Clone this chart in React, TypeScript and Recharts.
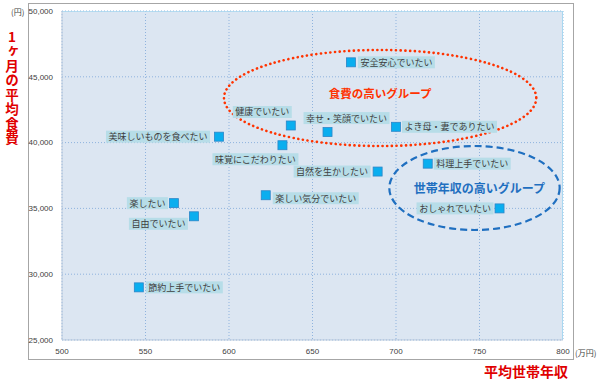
import { ScatterChart, Scatter, XAxis, YAxis, CartesianGrid, ReferenceArea } from 'recharts';

// 生活価値観ごとの平均世帯年収(万円)と1ヶ月の平均食費(円)
const names = [
  '安全安心でいたい',
  '健康でいたい',
  '美味しいものを食べたい',
  '味覚にこだわりたい',
  '幸せ・笑顔でいたい',
  'よき母・妻でありたい',
  '料理上手でいたい',
  '自然を生かしたい',
  '楽しい気分でいたい',
  '楽したい',
  '自由でいたい',
  '節約上手でいたい',
  'おしゃれでいたい',
];
const income = [673, 637, 594, 632, 659, 700, 719, 689, 622, 567, 579, 546, 762];
const foodCost = [46100, 41300, 40450, 39800, 40800, 41200, 38400, 37800, 36000, 35400, 34400, 29000, 35000];

const xTicks = [500, 550, 600, 650, 700, 750, 800];
const yTicks = [25000, 30000, 35000, 40000, 45000, 50000];

// グループ(楕円)の範囲
const groupNames = ['食費の高いグループ', '世帯年収の高いグループ'];
const groupIncome = [[597, 784], [696, 798]];
const groupCost = [[39740, 47040], [33360, 39740]];

const yTitle = '1ヶ月の平均食費';
const xTitle = '平均世帯年収';

const JP = '"Noto Sans CJK JP", "Noto Sans", sans-serif';

// ラベルの置き場所: side=left なら箱の右端が cx+dx, right なら箱の左端が cx+dx
const placement: Record<string, { side: 'left' | 'right'; dx: number; dy: number }> = {
  安全安心でいたい: { side: 'right', dx: 7, dy: 0 },
  健康でいたい: { side: 'left', dx: 1, dy: -13.5 },
  美味しいものを食べたい: { side: 'left', dx: -9, dy: 0 },
  味覚にこだわりたい: { side: 'left', dx: 16, dy: 14 },
  '幸せ・笑顔でいたい': { side: 'right', dx: -24, dy: -14 },
  'よき母・妻でありたい': { side: 'right', dx: 6, dy: 0 },
  料理上手でいたい: { side: 'right', dx: 6, dy: 0 },
  自然を生かしたい: { side: 'left', dx: -7, dy: 0 },
  楽しい気分でいたい: { side: 'right', dx: 7, dy: 3 },
  楽したい: { side: 'left', dx: -6, dy: 0 },
  自由でいたい: { side: 'left', dx: -6, dy: 7.5 },
  節約上手でいたい: { side: 'right', dx: 7, dy: 0 },
  おしゃれでいたい: { side: 'left', dx: -6, dy: 0 },
};

const data = names.map((name, i) => ({ name, x: income[i], y: foodCost[i] }));

const FONT = 9;

function PointShape(props: any) {
  const { cx, cy, payload } = props;
  const p = placement[payload.name] || { side: 'right', dx: 7, dy: 0 };
  const w = payload.name.length * FONT + 5;
  const h = 12;
  const left = p.side === 'right' ? cx + p.dx : cx + p.dx - w;
  const top = cy + p.dy - h / 2;
  return (
    <g>
      <rect x={left} y={top} width={w} height={h} fill="#b7dde8" />
      <text
        x={left + w / 2}
        y={top + h / 2}
        textAnchor="middle"
        dominantBaseline="central"
        fontSize={FONT}
        fontFamily={JP}
        fill="#404040"
      >
        {payload.name}
      </text>
      <rect x={cx - 4.5} y={cy - 4.5} width={9} height={9} fill="#0aaeef" stroke="#2c86c8" strokeWidth={0.8} />
    </g>
  );
}

function groupShape(i: number) {
  return (props: any) => {
    const { x, y, width, height } = props;
    const cx = x + width / 2;
    const cy = y + height / 2;
    const red = i === 0;
    return (
      <g>
        <ellipse
          cx={cx}
          cy={cy}
          rx={width / 2}
          ry={height / 2}
          fill="none"
          stroke={red ? '#ff3300' : '#1f6fc0'}
          strokeWidth={red ? 2.6 : 2.2}
          strokeDasharray={red ? '0.1 4.6' : '7 4'}
          strokeLinecap={red ? 'round' : 'butt'}
        />
        <text
          x={cx + (red ? 0 : 5)}
          y={cy + (red ? -5 : -1)}
          textAnchor="middle"
          dominantBaseline="central"
          fontSize={red ? 11.5 : 12}
          fontWeight="bold"
          fontFamily={JP}
          fill={red ? '#ff3300' : '#1f6fc0'}
        >
          {groupNames[i]}
        </text>
      </g>
    );
  };
}

export default function App() {
  return (
    <div style={{ position: 'absolute', left: 0, top: 0, width: 600, height: 384, background: '#fff' }}>
      <svg width={600} height={384} style={{ position: 'absolute', left: 0, top: 0 }}>
        <rect x={28.5} y={3.5} width={545} height={356} fill="#fff" stroke="#a6a6a6" strokeWidth={1} />
        <text x={11} y={11} fontSize={8} fontFamily={JP} fill="#404040" dominantBaseline="central">(円)</text>
        <text x={575} y={352} fontSize={8} fontFamily={JP} fill="#404040" dominantBaseline="central">(万円)</text>
        <text
          x={12}
          y={30}
          fontSize={13.5}
          fontWeight="bold"
          fontFamily={JP}
          fill="#e00000"
          letterSpacing={1}
          style={{ writingMode: 'vertical-rl', textOrientation: 'upright' }}
        >
          {yTitle}
        </text>
        <text x={526} y={377} fontSize={14} fontWeight="bold" fontFamily={JP} fill="#e00000" textAnchor="middle">
          {xTitle}
        </text>
      </svg>
      <div style={{ position: 'absolute', left: 0, top: 0 }}>
        <ScatterChart width={600} height={384} margin={{ top: 11, right: 37, bottom: 24, left: 28 }}>
          <CartesianGrid
            stroke="#8fb3de"
            strokeDasharray="1 2"
            fill="#dce6f2"
            fillOpacity={1}
            horizontalValues={yTicks}
            verticalValues={xTicks}
          />
          <XAxis
            type="number"
            dataKey="x"
            domain={[500, 800]}
            ticks={xTicks}
            interval={0}
            height={20}
            tickSize={6}
            tickMargin={2}
            tickLine={false}
            axisLine={{ stroke: '#b9c9dc' }}
            tick={{ fontSize: 8, fill: '#404040', fontFamily: '"Liberation Sans", sans-serif' }}
          />
          <YAxis
            type="number"
            dataKey="y"
            domain={[25000, 50000]}
            ticks={yTicks}
            interval={0}
            width={34}
            tickSize={6}
            tickMargin={3}
            tickLine={false}
            axisLine={{ stroke: '#b9c9dc' }}
            tickFormatter={(v: number) => v.toLocaleString('en-US')}
            tick={{ fontSize: 8, fill: '#404040', fontFamily: '"Liberation Sans", sans-serif' }}
          />
          <ReferenceArea x1={500} x2={800} y1={49950} y2={50000} fill="#a9d8f0" fillOpacity={1} stroke="none" />
          <ReferenceArea x1={799.4} x2={800} y1={25000} y2={50000} fill="#a9d8f0" fillOpacity={1} stroke="none" />
          {groupNames.map((g, i) => (
            <ReferenceArea
              key={g}
              x1={groupIncome[i][0]}
              x2={groupIncome[i][1]}
              y1={groupCost[i][0]}
              y2={groupCost[i][1]}
              shape={groupShape(i)}
              ifOverflow="visible"
            />
          ))}
          <Scatter data={data} shape={PointShape} isAnimationActive={false} />
        </ScatterChart>
      </div>
    </div>
  );
}
